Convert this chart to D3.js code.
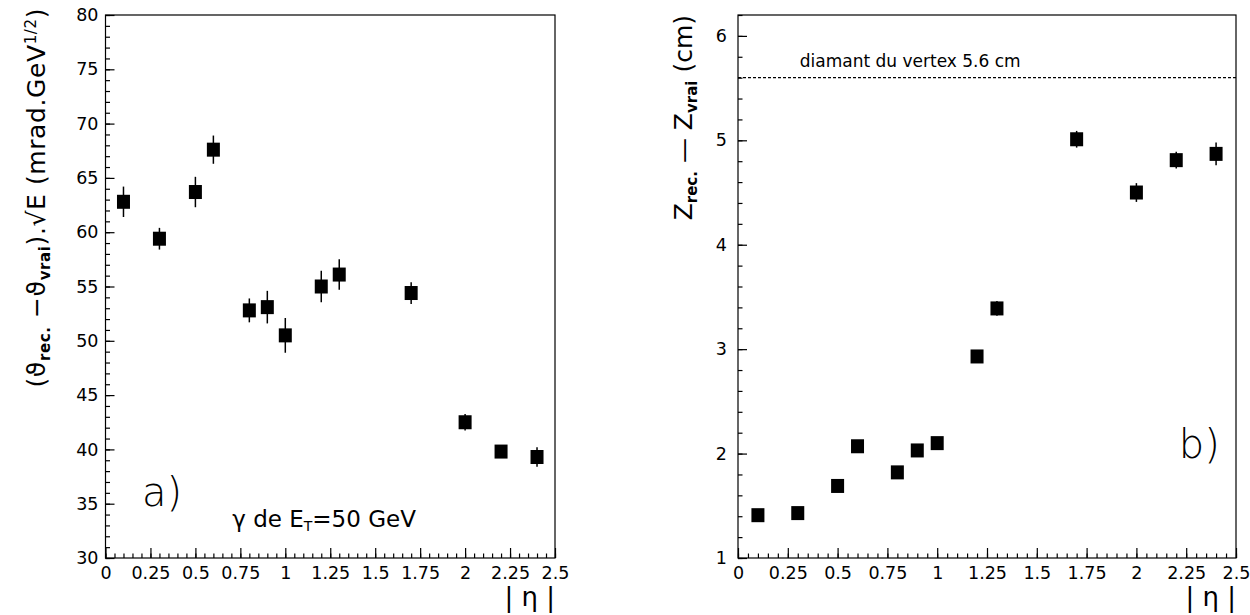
<!DOCTYPE html>
<html>
<head>
<meta charset="utf-8">
<script src="https://cdn.jsdelivr.net/npm/d3@7"></script>
<style>
  html, body { margin: 0; padding: 0; background: #fff; }
  svg { display: block; font-family: "DejaVu Sans", sans-serif; }
  .axis path, .axis line { stroke: #000; stroke-width: 1.2; }
  .axis text { font-size: 17.5px; fill: #000; font-family: "DejaVu Sans", sans-serif; }
</style>
</head>
<body>
<svg id="chart" width="1250" height="615"></svg>
<script>
// ---- data ----
const etaValues = [0.1, 0.3, 0.5, 0.6, 0.8, 0.9, 1.0, 1.2, 1.3, 1.7, 2.0, 2.2, 2.4];
const angleValues = [62.8, 59.4, 63.7, 67.6, 52.8, 53.1, 50.5, 55.0, 56.1, 54.4, 42.5, 39.8, 39.3];
const angleErrors = [1.4, 1.0, 1.4, 1.3, 1.1, 1.5, 1.6, 1.45, 1.4, 1.0, 0.75, 0.5, 0.9];
const zValues = [1.41, 1.43, 1.69, 2.07, 1.82, 2.03, 2.10, 2.93, 3.39, 5.01, 4.50, 4.81, 4.87];
const zErrors = [0.04, 0.04, 0.04, 0.05, 0.04, 0.05, 0.05, 0.05, 0.07, 0.08, 0.09, 0.08, 0.11];
const xTickValues = [0, 0.25, 0.5, 0.75, 1, 1.25, 1.5, 1.75, 2, 2.25, 2.5];
const xTickLabels = ["0", "0.25", "0.5", "0.75", "1", "1.25", "1.5", "1.75", "2", "2.25", "2.5"];
const angleTickValues = [30, 35, 40, 45, 50, 55, 60, 65, 70, 75, 80];
const zTickValues = [1, 2, 3, 4, 5, 6];
const vertexDiamond = 5.6;

const svg = d3.select("#chart");

function panel(opts) {
  const g = svg.append("g");
  const x = d3.scaleLinear().domain([0, 2.5]).range([opts.x0, opts.x1]);
  const y = d3.scaleLinear().domain(opts.yDomain).range([opts.y1, opts.y0]);

  // frame
  g.append("rect")
    .attr("x", opts.x0).attr("y", opts.y0)
    .attr("width", opts.x1 - opts.x0).attr("height", opts.y1 - opts.y0)
    .attr("fill", "none").attr("stroke", "#000").attr("stroke-width", 1.2);

  // x minor ticks
  const xMinor = d3.range(0, 2.5001, 0.05).map(v => +v.toFixed(2));
  g.append("g").attr("class", "axis").attr("transform", `translate(0,${opts.y1})`)
    .call(d3.axisBottom(x).tickValues(xMinor).tickSize(-4.5).tickFormat(""))
    .call(s => s.select(".domain").remove());
  // x major ticks
  g.append("g").attr("class", "axis").attr("transform", `translate(0,${opts.y1})`)
    .call(d3.axisBottom(x).tickValues(xTickValues).tickSize(-10).tickPadding(9)
      .tickFormat((d, i) => xTickLabels[i]))
    .call(s => s.select(".domain").remove());

  // y minor ticks
  const yMinor = d3.range(opts.yDomain[0], opts.yDomain[1] + 1e-6, opts.yMinorStep).map(v => +v.toFixed(2));
  g.append("g").attr("class", "axis").attr("transform", `translate(${opts.x0},0)`)
    .call(d3.axisLeft(y).tickValues(yMinor).tickSize(-4.5).tickFormat(""))
    .call(s => s.select(".domain").remove());
  g.append("g").attr("class", "axis").attr("transform", `translate(${opts.x0},0)`)
    .call(d3.axisLeft(y).tickValues(opts.yTicks).tickSize(-9).tickPadding(opts.yPad).tickFormat(d3.format("d")))
    .call(s => s.select(".domain").remove());

  // error bars
  g.append("g").selectAll("line").data(etaValues).join("line")
    .attr("x1", d => x(d)).attr("x2", d => x(d))
    .attr("y1", (d, i) => y(opts.values[i] - opts.errors[i]))
    .attr("y2", (d, i) => y(opts.values[i] + opts.errors[i]))
    .attr("stroke", "#000").attr("stroke-width", 1.5);
  // markers
  const mw = 13, mh = 14;
  g.append("g").selectAll("rect").data(etaValues).join("rect")
    .attr("x", d => x(d) - mw / 2)
    .attr("y", (d, i) => y(opts.values[i]) - mh / 2)
    .attr("width", mw).attr("height", mh).attr("fill", "#000");

  // x axis title
  g.append("text").attr("x", opts.x1).attr("y", 606)
    .attr("text-anchor", "end").attr("font-size", 26).text("| η |");

  return { g, x, y };
}

// ---- panel a ----
const A = panel({
  x0: 105.5, x1: 555, y0: 15, y1: 558,
  yDomain: [30, 80], yTicks: angleTickValues, yMinorStep: 1, yPad: 7,
  values: angleValues, errors: angleErrors
});
const aTitle = A.g.append("text")
  .attr("transform", "translate(45,8) rotate(-90)")
  .attr("text-anchor", "end").attr("font-size", 25).attr("letter-spacing", 0.6);
aTitle.append("tspan").text("(ϑ");
aTitle.append("tspan").attr("font-size", 15).attr("font-weight", "bold").attr("dy", 5).text("rec.");
aTitle.append("tspan").attr("dy", -5).text(" −ϑ");
aTitle.append("tspan").attr("font-size", 15).attr("font-weight", "bold").attr("dy", 5).text("vrai");
aTitle.append("tspan").attr("dy", -5).text(").√E (mrad.GeV");
aTitle.append("tspan").attr("font-size", 15).attr("dy", -9).text("1/2");
aTitle.append("tspan").attr("dy", 9).text(")");

A.g.append("text").attr("x", 142).attr("y", 506).attr("font-size", 40).attr("font-weight", 300).text("a)");
const gam = A.g.append("text").attr("x", A.x(0.705)).attr("y", 527).attr("font-size", 23);
gam.append("tspan").text("γ de E");
gam.append("tspan").attr("font-size", 14).attr("dy", 4).text("T");
gam.append("tspan").attr("dy", -4).text("=50 GeV");

// ---- panel b ----
const B = panel({
  x0: 738, x1: 1236, y0: 15, y1: 558,
  yDomain: [1, 6.2], yTicks: zTickValues, yMinorStep: 0.2, yPad: 11,
  values: zValues, errors: zErrors
});
B.g.append("line")
  .attr("x1", B.x(0)).attr("x2", B.x(2.5))
  .attr("y1", B.y(vertexDiamond)).attr("y2", B.y(vertexDiamond))
  .attr("stroke", "#000").attr("stroke-width", 1.2).attr("stroke-dasharray", "3,2");
B.g.append("text").attr("x", B.x(0.31)).attr("y", 67).attr("font-size", 17)
  .text("diamant du vertex 5.6 cm");
const bTitle = B.g.append("text")
  .attr("transform", "translate(692,15) rotate(-90)")
  .attr("text-anchor", "end").attr("font-size", 25);
bTitle.append("tspan").text("Z");
bTitle.append("tspan").attr("font-size", 15).attr("font-weight", "bold").attr("dy", 5).text("rec.");
bTitle.append("tspan").attr("dy", -5).text(" — Z");
bTitle.append("tspan").attr("font-size", 15).attr("font-weight", "bold").attr("dy", 5).text("vrai");
bTitle.append("tspan").attr("dy", -5).text("  (cm)");

B.g.append("text").attr("x", B.x(2.213)).attr("y", 458).attr("font-size", 40).attr("font-weight", 300).text("b)");
</script>
</body>
</html>
